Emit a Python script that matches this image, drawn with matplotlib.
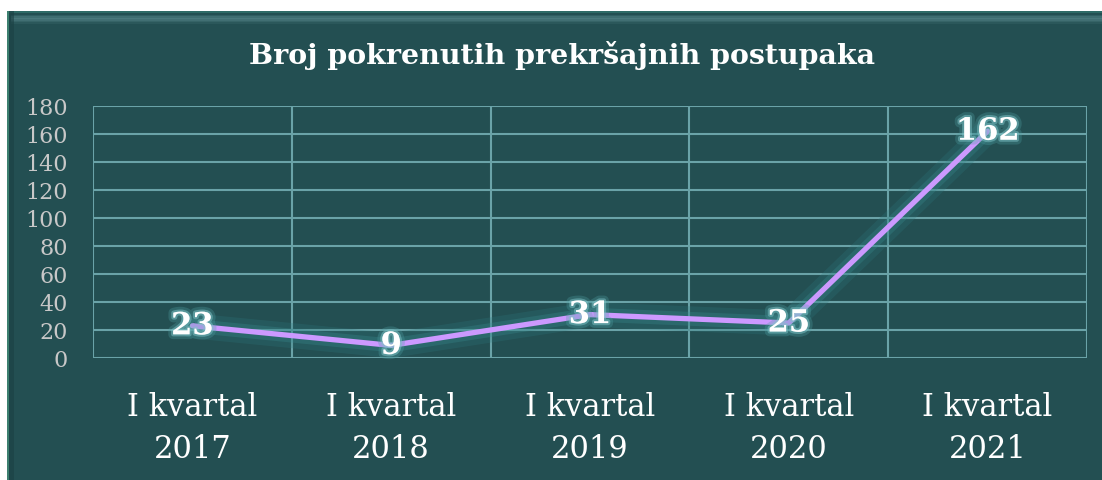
import matplotlib.pyplot as plt
import matplotlib.patheffects as pe
from matplotlib.patches import Rectangle
import numpy as np

categories = ['I kvartal\n2017', 'I kvartal\n2018', 'I kvartal\n2019',
              'I kvartal\n2020', 'I kvartal\n2021']
values = [23, 9, 31, 25, 162]
yticks = [0, 20, 40, 60, 80, 100, 120, 140, 160, 180]
title = 'Broj pokrenutih prekršajnih postupaka'

bg = '#234F52'
grid_col = '#6AA3A8'
line_col = '#CC99FF'
serif = ['DejaVu Serif']

W, H = 1102, 481
fig = plt.figure(figsize=(W / 100, H / 100), dpi=100, facecolor='white')

# panel background with a light bevel on top and left
px0, py0 = 7 / W, 0
pw, ph = 1 - 7 / W, 1 - 12 / H
def panel_rect(xy, w, h, **kw):
    fig.patches.append(Rectangle(xy, w, h, transform=fig.transFigure,
                                 edgecolor='none', zorder=-5, **kw))

panel_rect((px0, py0), pw, ph, facecolor=bg)
panel_rect((px0, 1 - 14 / H), pw, 2 / H, facecolor='#2E6A66')
for i, a in enumerate([0.25, 0.5, 0.7, 0.55, 0.35, 0.15]):
    panel_rect((px0 + 4 / W, 1 - (17 + i * 1.5) / H), pw, 1.5 / H,
               facecolor='#7FB3B8', alpha=a * 0.6)
panel_rect((px0, 0), 1.5 / W, ph, facecolor='#3C8070')
panel_rect((px0 + 1.5 / W, 0), 5 / W, ph, facecolor='#1B4043', alpha=0.6)

ax = fig.add_axes([93 / W, 1 - 359 / H, (1087 - 93) / W, (359 - 107) / H])
ax.set_facecolor('none')
ax.set_zorder(5)

x = np.arange(len(values))
ax.set_xlim(-0.5, len(values) - 0.5)
ax.set_ylim(0, 180)

for yv in yticks:
    ax.axhline(yv, color=grid_col, lw=1.5, zorder=1)
for b in np.arange(-0.5, len(values), 1.0):
    ax.axvline(b, color=grid_col, lw=1.5, zorder=1)

glow = [pe.Stroke(linewidth=18, foreground='#2E7A80', alpha=0.25),
        pe.Stroke(linewidth=10, foreground='#3A8C90', alpha=0.3),
        pe.Normal()]
ax.plot(x, values, color=line_col, lw=3.8, solid_capstyle='round', zorder=3,
        path_effects=glow)

for xi, v in zip(x, values):
    ax.text(xi, v, str(v), ha='center', va='center', fontsize=22,
            fontweight='bold', color='white', family=serif, zorder=4,
            path_effects=[pe.Stroke(linewidth=7, foreground='#4FA0A4', alpha=0.3),
                          pe.Stroke(linewidth=3, foreground='#7FC4C8', alpha=0.5),
                          pe.Normal()])

for s in ax.spines.values():
    s.set_visible(False)

ax.set_yticks(yticks)
ax.set_yticklabels([str(t) for t in yticks], family=serif, fontsize=16, color='#C8C8C8')
ax.set_xticks(x)
ax.set_xticklabels(categories, family=serif, fontsize=22, color='white', linespacing=1.45)
ax.tick_params(axis='both', length=0)
ax.tick_params(axis='y', pad=18)
ax.tick_params(axis='x', pad=24)

fig.text(562 / W, 1 - 55 / H, title, ha='center', va='center', fontsize=20.5,
         fontweight='bold', color='white', family=serif, zorder=6)

fig.savefig('out.png', dpi=100, facecolor='white')
